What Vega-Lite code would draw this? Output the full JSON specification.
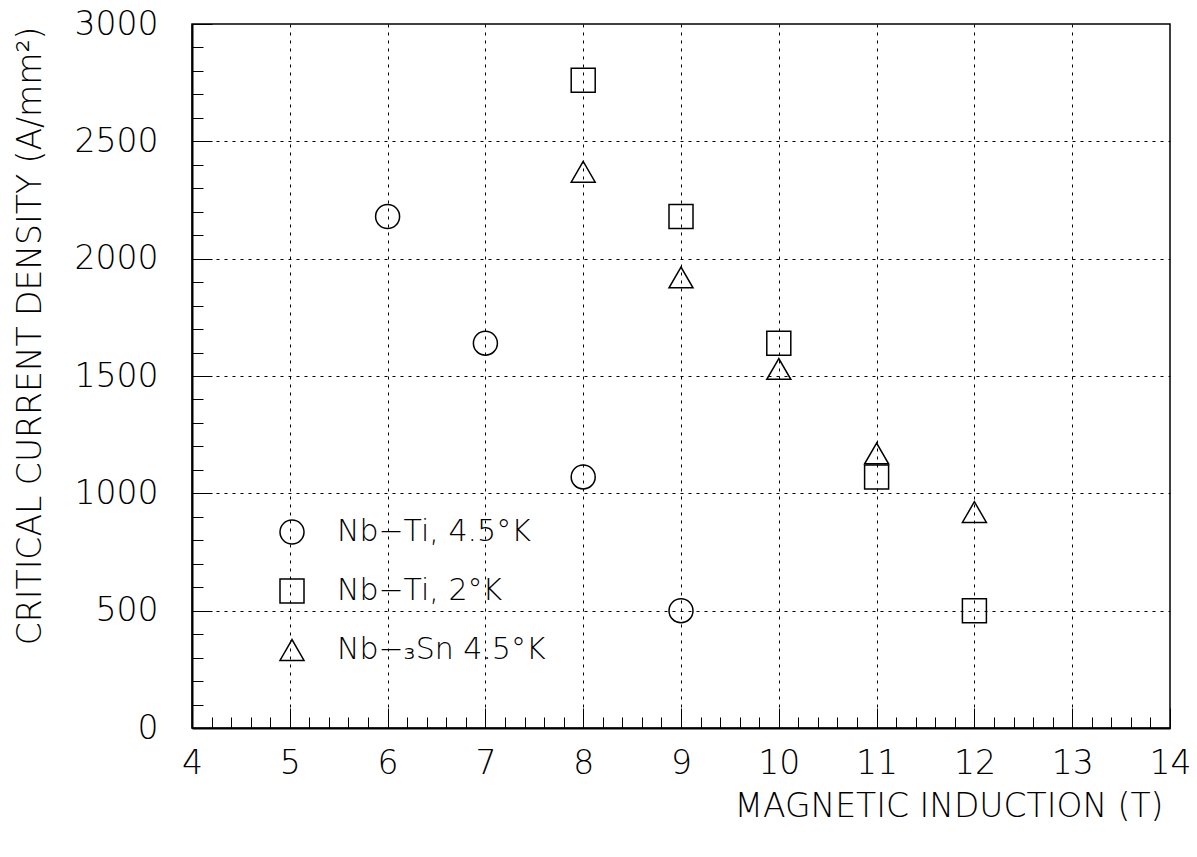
{
  "$schema": "https://vega.github.io/schema/vega-lite/v6.json",
  "width": 978,
  "height": 704,
  "autosize": {"type": "none"},
  "padding": {"left": 192, "top": 24, "right": 27, "bottom": 129},
  "background": "white",
  "config": {
    "font": "DejaVu Sans",
    "view": {"stroke": "black", "strokeWidth": 1.5},
    "axis": {
      "domainColor": "black",
      "domainWidth": 2,
      "tickColor": "black",
      "tickWidth": 1,
      "gridColor": "black",
      "gridDash": [3, 5],
      "gridWidth": 1,
      "labelFont": "DejaVu Sans",
      "labelFontWeight": 200,
      "labelFontSize": 33,
      "labelColor": "black",
      "titleFont": "DejaVu Sans",
      "titleFontWeight": 200,
      "titleFontSize": 33,
      "titleColor": "black",
      "labelOverlap": false,
      "labelFlush": false
    }
  },
  "data": {
    "values": [
      {"field": 6, "jc": 2180, "series": "Nb−Ti, 4.5°K"},
      {"field": 7, "jc": 1640, "series": "Nb−Ti, 4.5°K"},
      {"field": 8, "jc": 1070, "series": "Nb−Ti, 4.5°K"},
      {"field": 9, "jc": 500, "series": "Nb−Ti, 4.5°K"},
      {"field": 8, "jc": 2760, "series": "Nb−Ti, 2°K"},
      {"field": 9, "jc": 2180, "series": "Nb−Ti, 2°K"},
      {"field": 10, "jc": 1640, "series": "Nb−Ti, 2°K"},
      {"field": 11, "jc": 1070, "series": "Nb−Ti, 2°K"},
      {"field": 12, "jc": 500, "series": "Nb−Ti, 2°K"},
      {"field": 8, "jc": 2370, "series": "Nb−₃Sn 4.5°K"},
      {"field": 9, "jc": 1920, "series": "Nb−₃Sn 4.5°K"},
      {"field": 10, "jc": 1530, "series": "Nb−₃Sn 4.5°K"},
      {"field": 11, "jc": 1170, "series": "Nb−₃Sn 4.5°K"},
      {"field": 12, "jc": 920, "series": "Nb−₃Sn 4.5°K"}
    ]
  },
  "mark": {"type": "point", "filled": false, "stroke": "black", "strokeWidth": 1.5, "size": 576, "opacity": 1},
  "encoding": {
    "x": {
      "field": "field",
      "type": "quantitative",
      "scale": {"domain": [4, 14], "nice": false, "zero": false},
      "axis": {
        "title": "MAGNETIC INDUCTION (T)",
        "titleX": 971,
        "titleY": 78,
        "titleAlign": "right",
        "titleBaseline": "middle",
        "titleAnchor": "end",
        "values": [4, 4.2, 4.4, 4.6, 4.8, 5, 5.2, 5.4, 5.6, 5.8, 6, 6.2, 6.4, 6.6, 6.8, 7, 7.2, 7.4, 7.6, 7.8, 8, 8.2, 8.4, 8.6, 8.8, 9, 9.2, 9.4, 9.6, 9.8, 10, 10.2, 10.4, 10.6, 10.8, 11, 11.2, 11.4, 11.6, 11.8, 12, 12.2, 12.4, 12.6, 12.8, 13, 13.2, 13.4, 13.6, 13.8, 14],
        "labelExpr": "datum.value % 1 === 0 ? '' + datum.value : ''",
        "tickSize": {"condition": {"test": "datum.value % 1 === 0", "value": -20}, "value": -11},
        "labelPadding": 39,
        "grid": true,
        "gridOpacity": {"condition": {"test": "datum.value % 1 === 0 && datum.value > 4 && datum.value < 14", "value": 1}, "value": 0}
      }
    },
    "y": {
      "field": "jc",
      "type": "quantitative",
      "scale": {"domain": [0, 3000], "nice": false, "zero": true},
      "axis": {
        "title": "CRITICAL CURRENT DENSITY (A/mm²)",
        "titleX": -162,
        "titleY": 2,
        "titleAngle": -90,
        "titleAlign": "right",
        "titleBaseline": "middle",
        "titleAnchor": "end",
        "values": [0, 100, 200, 300, 400, 500, 600, 700, 800, 900, 1000, 1100, 1200, 1300, 1400, 1500, 1600, 1700, 1800, 1900, 2000, 2100, 2200, 2300, 2400, 2500, 2600, 2700, 2800, 2900, 3000],
        "labelExpr": "datum.value % 500 === 0 ? '' + datum.value : ''",
        "tickSize": {"condition": {"test": "datum.value % 500 === 0", "value": -20}, "value": -11},
        "labelPadding": 54,
        "grid": true,
        "gridOpacity": {"condition": {"test": "datum.value % 500 === 0 && datum.value > 0 && datum.value < 3000", "value": 1}, "value": 0}
      }
    },
    "shape": {
      "field": "series",
      "type": "nominal",
      "scale": {
        "domain": ["Nb−Ti, 4.5°K", "Nb−Ti, 2°K", "Nb−₃Sn 4.5°K"],
        "range": ["circle", "square", "triangle-up"]
      },
      "legend": {
        "title": null,
        "orient": "none",
        "legendX": 85,
        "legendY": 493,
        "symbolSize": 576,
        "symbolStrokeColor": "black",
        "symbolFillColor": "transparent",
        "symbolStrokeWidth": 1.5,
        "labelFont": "DejaVu Sans",
        "labelFontWeight": 200,
        "labelFontSize": 30,
        "labelColor": "black",
        "labelLimit": 0,
        "labelOffset": 30,
        "rowPadding": 29,
        "padding": 0
      }
    }
  }
}
